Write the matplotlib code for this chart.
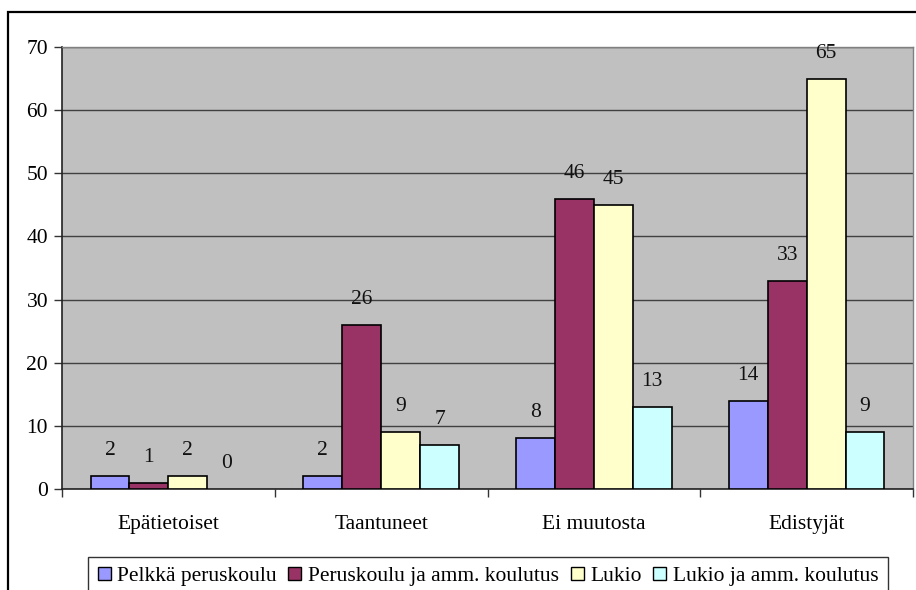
import matplotlib
matplotlib.use("Agg")
import matplotlib.pyplot as plt
import numpy as np
from matplotlib.patches import Rectangle, Patch

categories = ["Epätietoiset", "Taantuneet", "Ei muutosta", "Edistyjät"]
series_names = ["Pelkkä peruskoulu", "Peruskoulu ja amm. koulutus", "Lukio", "Lukio ja amm. koulutus"]
pelkka = [2, 2, 8, 14]
perus_amm = [1, 26, 46, 33]
lukio = [2, 9, 45, 65]
lukio_amm = [0, 7, 13, 9]
yticks = [0, 10, 20, 30, 40, 50, 60, 70]

colors = ["#9999FF", "#993366", "#FFFFCC", "#CCFFFF"]
plt.rcParams['font.family'] = ['Liberation Serif', 'DejaVu Serif']
FS = 15.5

W, H = 916, 590
fig = plt.figure(figsize=(W / 100, H / 100), dpi=100)
fig.patch.set_facecolor("white")

# outer chart border
fig.patches.append(Rectangle((8 / W, -0.2), 1.2, 1 - 12 / H + 0.2, transform=fig.transFigure,
                             fill=False, edgecolor="black", linewidth=1.6, clip_on=False))

ax = fig.add_axes([62 / W, 1 - 489 / H, (913 - 62) / W, (489 - 47) / H])
ax.set_facecolor("#C0C0C0")

data = [pelkka, perus_amm, lukio, lukio_amm]
x = np.arange(len(categories))
bw = 0.183
for i, (vals, col, name) in enumerate(zip(data, colors, series_names)):
    pos = x + (i - 1.5) * bw
    lw = [1.2 if v > 0 else 0 for v in vals]
    ax.bar(pos, vals, width=bw, color=col, edgecolor="black", linewidth=lw,
           label=name, zorder=3)
    for p, v in zip(pos, vals):
        ax.annotate(str(v), (p, v), xytext=(0, 16), textcoords="offset pixels",
                    ha="center", va="bottom", fontsize=FS, color="#111111")

ax.set_xlim(-0.5, len(categories) - 0.5)
ax.set_ylim(0, 70)
ax.set_yticks(yticks)
ax.set_yticklabels([str(t) for t in yticks], fontsize=FS)
ax.yaxis.grid(True, color="#404040", linewidth=1.0, zorder=1)
ax.set_axisbelow(True)

ax.set_xticks(np.arange(len(categories) + 1) - 0.5)
ax.set_xticklabels([])
ax.set_xticks(x, minor=True)
ax.set_xticklabels(categories, minor=True, fontsize=FS)
ax.tick_params(axis="x", which="minor", length=0, pad=19)
ax.tick_params(axis="x", which="major", length=6, width=1, color="#333333")
ax.tick_params(axis="y", length=6, width=1, color="#333333", pad=4)

for s in ["top", "right"]:
    ax.spines[s].set_color("#808080")
    ax.spines[s].set_linewidth(1.0)
for s in ["left", "bottom"]:
    ax.spines[s].set_color("#222222")
    ax.spines[s].set_linewidth(1.2)

handles = [Patch(facecolor=c, edgecolor="black", linewidth=1.0) for c in colors]
leg = fig.legend(handles, series_names, loc="upper center", bbox_to_anchor=(488 / W, 1 - 557 / H), ncol=4,
                 fontsize=FS, frameon=True, fancybox=False, edgecolor="black",
                 handlelength=0.6, handleheight=0.6, handletextpad=0.3, columnspacing=0.55,
                 borderpad=0.45, borderaxespad=0)
leg.get_frame().set_linewidth(1.0)

fig.savefig("out.png", dpi=100)
